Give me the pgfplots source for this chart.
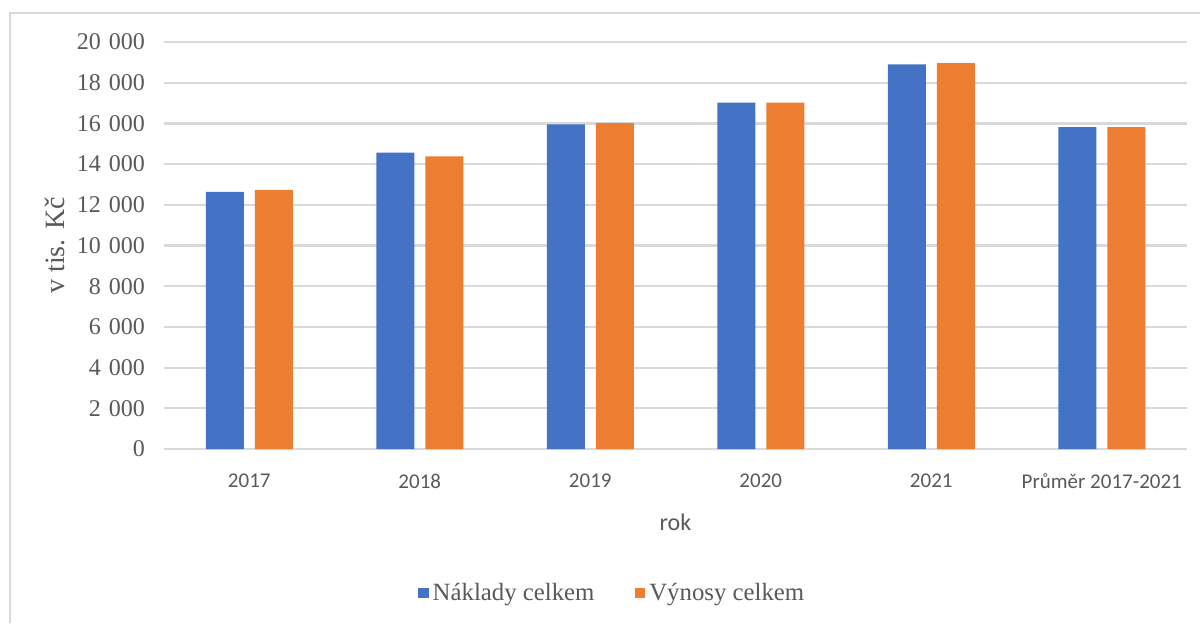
\documentclass[border=0pt]{standalone}
\usepackage{pgfplots}
\pgfplotsset{compat=1.18}
\usepackage{fontspec}
\setmainfont{Liberation Serif}
\newfontfamily\calfont{Carlito}
\definecolor{barblue}{HTML}{4472C4}
\definecolor{barorange}{HTML}{ED7D31}
\definecolor{gridgrey}{HTML}{D9D9D9}
\definecolor{textgrey}{HTML}{595959}
\begin{document}
\begin{tikzpicture}
\useasboundingbox (0,0) rectangle (600pt,311.5pt);
\draw[gridgrey, line width=1pt] (5pt,0) -- (5pt,305pt) -- (600pt,305pt);
\begin{axis}[
  at={(82pt,87pt)}, anchor=south west,
  scale only axis,
  width=511.5pt, height=203.5pt,
  xmin=-0.5, xmax=5.5,
  ymin=0, ymax=20000,
  ytick={0,2000,...,20000},
  xtick={0,1,2,3,4,5},
  xticklabels={2017,2018,2019,2020,2021,Průměr 2017-2021},
  axis line style={draw=none},
  major tick length=0pt,
  ymajorgrids,
  grid style={gridgrey, line width=1.1pt},
  scaled y ticks=false,
  /pgf/number format/.cd, 1000 sep={\,\,}, assume math mode=true,
  /pgfplots/.cd,
  y tick label style={font=\fontsize{12}{14}\selectfont, text=textgrey, xshift=-6pt},
  x tick label style={font=\calfont\fontsize{10.5}{12}\selectfont, text=textgrey, yshift=-9pt},
  xlabel={rok},
  xlabel style={font=\calfont\fontsize{12}{14}\selectfont, text=textgrey, yshift=-5.5pt},
  ylabel={v tis. Kč},
  ylabel style={font=\fontsize{14}{16}\selectfont, text=textgrey, at={(axis description cs:-0.1066,0.5)}, anchor=center},
  legend columns=2,
  legend style={at={(axis description cs:0.439,0)}, anchor=center, yshift=-72pt, draw=none, fill=none,
    font=\fontsize{12.4}{14}\selectfont, text=textgrey,
    /tikz/every even column/.append style={column sep=18pt}},
  ybar, bar width=19pt,
  clip=false,
]
\addplot[fill=barblue, draw=none, bar shift=-12.25pt,
  legend image code/.code={\fill[barblue] (0pt,-2.7pt) rectangle (5.4pt,2.7pt);}]
  coordinates {(0,12630) (1,14560) (2,15955) (3,17017) (4,18903) (5,15813)};
\addlegendentry{Náklady celkem}
\addplot[fill=barorange, draw=none, bar shift=12.25pt,
  legend image code/.code={\fill[barorange] (0pt,-2.7pt) rectangle (5.4pt,2.7pt);}]
  coordinates {(0,12727) (1,14383) (2,16020) (3,17017) (4,18968) (5,15823)};
\addlegendentry{Výnosy celkem}
\end{axis}
\end{tikzpicture}
\end{document}
